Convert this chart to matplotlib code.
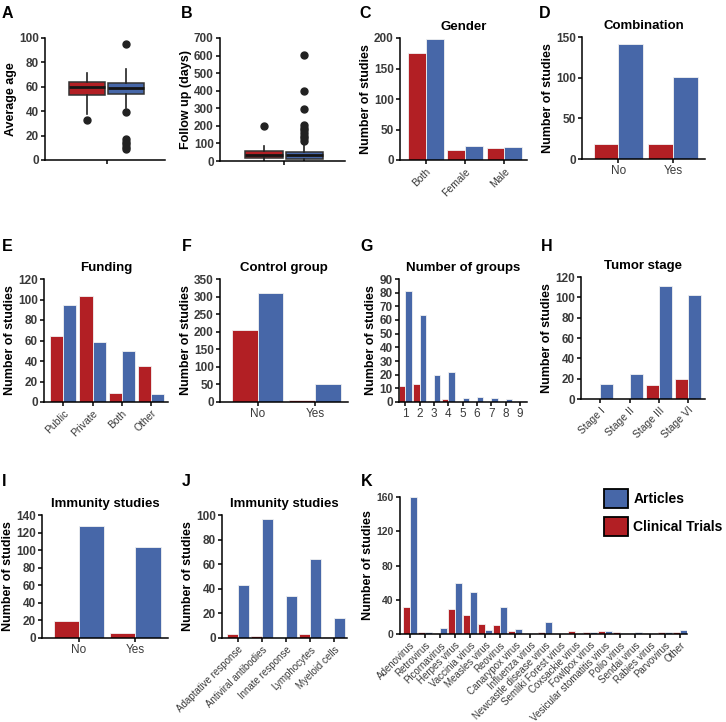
import numpy as np
import matplotlib
matplotlib.use("Agg")
import matplotlib.pyplot as plt
import matplotlib.patches as mpatches

plt.rcParams.update({"font.family": ["Liberation Sans", "DejaVu Sans"],
                     "font.size": 8,
                     "axes.spines.top": False, "axes.spines.right": False})

RED = "#B21F24"; BLUE = "#4767A8"; TICK_GREY = "#3a3a3a"
W, H = 726, 722

# ── data ─────────────────────────────────────────────────────────────────────
# box stats: [whislo, q1, med, q3, whishi]
AGE_CT = [38, 53, 60, 64, 71]
AGE_CT_OUT = [33]
AGE_ART = [43, 54, 59, 63, 75]
AGE_ART_OUT = [95, 39, 17, 15, 13, 11, 9]
FU_CT = [0, 17, 35, 56, 88]
FU_CT_OUT = [198]
FU_ART = [0, 12, 33, 50, 95]
FU_ART_OUT = [605, 400, 295, 205, 190, 175, 160, 145, 130, 115]

GENDER = ["Both", "Female", "Male"]
GENDER_CT = [175, 17, 19]
GENDER_ART = [198, 23, 22]

YESNO = ["No", "Yes"]
COMB_CT = [19, 18]
COMB_ART = [141, 101]

FUNDING = ["Public", "Private", "Both", "Other"]
FUNDING_CT = [64, 103, 9, 35]
FUNDING_ART = [95, 59, 50, 8]

CONTROL_CT = [205, 5]
CONTROL_ART = [310, 52]

NGROUPS = ["1", "2", "3", "4", "5", "6", "7", "8", "9"]
NGROUPS_CT = [12, 13, 1, 2, 0, 0, 0, 0, 0]
NGROUPS_ART = [81, 64, 20, 22, 3, 4, 3, 2, 1]

STAGES = ["Stage I", "Stage II", "Stage III", "Stage VI"]
STAGES_CT = [0, 0, 14, 20]
STAGES_ART = [15, 25, 111, 102]

IMMUNO_CT = [19, 6]
IMMUNO_ART = [127, 104]

IMM_TYPES = ["Adaptative response", "Antiviral antibodies", "Innate response",
             "Lymphocytes", "Myeloid cells"]
IMM_TYPES_CT = [3, 2, 0, 3, 1]
IMM_TYPES_ART = [43, 97, 34, 64, 16]

VIRUSES = ["Adenovirus", "Retrovirus", "Picornavirus", "Herpes virus", "Vaccinia virus",
           "Measles virus", "Reovirus", "Canarypox virus", "Influenza virus",
           "Newcastle disease virus", "Semliki Forest virus", "Coxsackie virus",
           "Fowlpox virus", "Vesicular stomatitis virus", "Polio virus", "Sendai virus",
           "Rabies virus", "Parvovirus", "Other"]
VIRUSES_CT = [31, 2, 1, 29, 22, 12, 11, 3, 1, 2, 1, 3, 2, 3, 2, 1, 1, 2, 2]
VIRUSES_ART = [160, 2, 7, 60, 49, 5, 32, 6, 1, 14, 1, 1, 2, 3, 1, 2, 1, 2, 5]

fig = plt.figure(figsize=(W/100, H/100), dpi=100)


def px_axes(x0, y0, x1, y1):
    return fig.add_axes([x0/W, 1-y1/H, (x1-x0)/W, (y1-y0)/H])


def style(ax, yticks, ylabel="Number of studies", title=None, tfs=8.5):
    ax.spines["left"].set_linewidth(1.1)
    ax.spines["bottom"].set_linewidth(1.1)
    ax.set_ylim(yticks[0], yticks[-1])
    ax.set_yticks(yticks)
    ax.set_yticklabels([str(t) for t in yticks], fontweight="bold",
                       fontsize=tfs, color=TICK_GREY)
    ax.tick_params(axis="both", length=3, width=1.1, pad=1.5)
    ax.set_ylabel(ylabel, fontsize=9, fontweight="bold", labelpad=1.5)
    if title:
        ax.set_title(title, fontsize=9.5, fontweight="bold", pad=6)


def grouped(ax, cats, ct, art, rot=45, fs=7.5, w=0.45, xl=(-0.66, 0.58)):
    x = np.arange(len(cats))
    ax.bar(x - w/2, ct, w, color=RED, edgecolor="#f2f2f2", linewidth=0.6)
    ax.bar(x + w/2, art, w, color=BLUE, edgecolor="#f2f2f2", linewidth=0.6)
    ax.set_xticks(x)
    if rot:
        ax.set_xticklabels(cats, rotation=rot, ha="right", rotation_mode="anchor",
                           fontsize=fs, color=TICK_GREY)
    else:
        ax.set_xticklabels(cats, fontsize=fs, color=TICK_GREY)
    ax.set_xlim(xl[0], len(cats) - 1 + xl[1])


def boxes(ax, ct, ct_out, art, art_out):
    stats = []
    for s, out in [(ct, ct_out), (art, art_out)]:
        stats.append(dict(whislo=s[0], q1=s[1], med=s[2], q3=s[3], whishi=s[4], fliers=out))
    bp = ax.bxp(stats, positions=[1, 2], widths=0.92, patch_artist=True, showcaps=False,
                boxprops=dict(edgecolor="#333333", linewidth=1.1),
                medianprops=dict(color="#151515", linewidth=2),
                whiskerprops=dict(color="#222222", linewidth=1.2),
                flierprops=dict(marker="o", markerfacecolor="#222222",
                                markeredgecolor="#222222", markersize=5))
    for patch, col in zip(bp["boxes"], [RED, BLUE]):
        patch.set_facecolor(col)
    ax.set_xlim(-0.08, 3.0)
    ax.set_xticks([1.5])
    ax.set_xticklabels([""])


# ── row 1 ────────────────────────────────────────────────────────────────────
axA = px_axes(45, 38, 165, 160)
boxes(axA, AGE_CT, AGE_CT_OUT, AGE_ART, AGE_ART_OUT)
style(axA, [0, 20, 40, 60, 80, 100], ylabel="Average age")

axB = px_axes(220, 38, 345, 161)
boxes(axB, FU_CT, FU_CT_OUT, FU_ART, FU_ART_OUT)
style(axB, [0, 100, 200, 300, 400, 500, 600, 700], ylabel="Follow up (days)")

axC = px_axes(400, 38, 527, 160)
grouped(axC, GENDER, GENDER_CT, GENDER_ART)
style(axC, [0, 50, 100, 150, 200], title="Gender")

axD = px_axes(582, 37, 705, 159)
grouped(axD, YESNO, COMB_CT, COMB_ART, rot=0, fs=8.5)
style(axD, [0, 50, 100, 150], title="Combination")

# ── row 2 ────────────────────────────────────────────────────────────────────
axE = px_axes(44, 279, 168, 402)
grouped(axE, FUNDING, FUNDING_CT, FUNDING_ART)
style(axE, [0, 20, 40, 60, 80, 100, 120], title="Funding")

axF = px_axes(220, 279, 348, 402)
grouped(axF, YESNO, CONTROL_CT, CONTROL_ART, rot=0, fs=8.5)
style(axF, [0, 50, 100, 150, 200, 250, 300, 350], title="Control group")

axG = px_axes(399, 279, 527, 402)
grouped(axG, NGROUPS, NGROUPS_CT, NGROUPS_ART, rot=0, fs=8.5, xl=(-0.45, 0.5))
style(axG, [0, 10, 20, 30, 40, 50, 60, 70, 80, 90], title="Number of groups")

axH = px_axes(581, 277, 705, 399)
grouped(axH, STAGES, STAGES_CT, STAGES_ART)
style(axH, [0, 20, 40, 60, 80, 100, 120], title="Tumor stage")

# ── row 3 ────────────────────────────────────────────────────────────────────
axI = px_axes(42, 515, 168, 638)
grouped(axI, YESNO, IMMUNO_CT, IMMUNO_ART, rot=0, fs=8.5)
style(axI, [0, 20, 40, 60, 80, 100, 120, 140], title="Immunity studies")

axJ = px_axes(222, 515, 347, 638)
grouped(axJ, IMM_TYPES, IMM_TYPES_CT, IMM_TYPES_ART, fs=7, xl=(-0.66, 0.53))
style(axJ, [0, 20, 40, 60, 80, 100], title="Immunity studies")

axK = px_axes(400, 497, 687, 634)
grouped(axK, VIRUSES, VIRUSES_CT, VIRUSES_ART, fs=7, xl=(-0.67, 0.45))
style(axK, [0, 40, 80, 120, 160], tfs=7.5)

handles = [mpatches.Patch(facecolor=BLUE, edgecolor="black", linewidth=1.3, label="Articles"),
           mpatches.Patch(facecolor=RED, edgecolor="black", linewidth=1.3, label="Clinical Trials")]
axK.legend(handles=handles, loc="upper left", bbox_to_anchor=(604/W, 1-489/H),
           bbox_transform=fig.transFigure, frameon=False,
           prop={"size": 10, "weight": "bold"}, handlelength=1.7, handleheight=1.7,
           borderpad=0, borderaxespad=0, labelspacing=0.65, handletextpad=0.4)

# ── panel letters ────────────────────────────────────────────────────────────
LETTERS = [("A", 2, 13), ("B", 181, 13), ("C", 359, 13), ("D", 539, 13),
           ("E", 2, 247), ("F", 182, 247), ("G", 360, 247), ("H", 541, 247),
           ("I", 2, 481), ("J", 182, 481), ("K", 361, 481)]
for lt, x, y in LETTERS:
    fig.text(x/W, 1-y/H, lt, fontsize=11.5, fontweight="bold", va="center", ha="left")

fig.savefig("out.png", dpi=100)
